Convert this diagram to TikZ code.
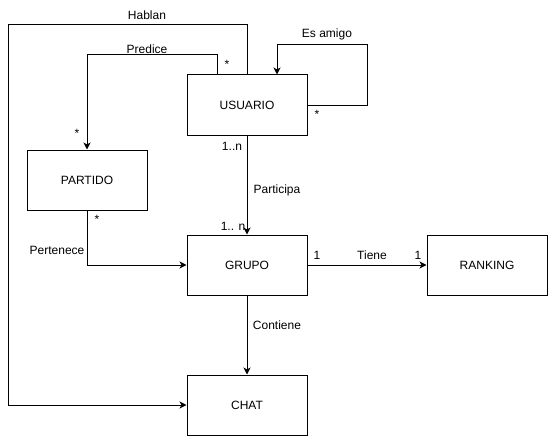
\documentclass[tikz,border=0pt]{standalone}
\usepackage{fontspec}
\setmainfont{Liberation Sans}
\usetikzlibrary{arrows.meta}
\begin{document}
\begin{tikzpicture}[x=1pt,y=-1pt,
  ent/.style={draw,line width=1pt,minimum width=120pt,minimum height=60pt,inner sep=0pt,font=\fontsize{12}{14}\selectfont},
  lbl/.style={inner sep=0pt,font=\fontsize{12}{14}\selectfont},
  conn/.style={line width=1pt,-{Stealth[length=7pt,width=7pt,inset=2pt]}}]
\useasboundingbox (0,0) rectangle (549,436);
\node[ent] (usu) at (247,105) {USUARIO};
\node[ent] (par) at (87,180) {PARTIDO};
\node[ent] (gru) at (247,265) {GRUPO};
\node[ent] (ran) at (487,265) {RANKING};
\node[ent] (cha) at (247,405) {CHAT};
\coordinate (h1) at (247,25);
\coordinate (h2) at (8,25);
\coordinate (h3) at (8,405);
\draw[conn] (usu.north) -- (h1) -- (h2) -- (h3) -- (cha.west);
\coordinate (p1) at (217,55);
\coordinate (p2) at (87,55);
\draw[conn] (p1 |- usu.north) -- (p1) -- (p2) -- (par.north);
\coordinate (e1) at (367,105);
\coordinate (e2) at (367,45);
\coordinate (e3) at (277,45);
\draw[conn] (usu.east) -- (e1) -- (e2) -- (e3) -- (e3 |- usu.north);
\draw[conn] (usu.south) -- (gru.north);
\coordinate (t1) at (87,265);
\draw[conn] (par.south) -- (t1) -- (gru.west);
\draw[conn] (gru.east) -- (ran.west);
\draw[conn] (gru.south) -- (cha.north);
\node[lbl] (lh) at (147,15) {Hablan};
\node[lbl] (lp) at (147,49) {Predice};
\node[lbl] (ls1) at (227,64) {*};
\node[lbl] (ls2) at (77,133) {*};
\node[lbl] (le) at (327,34) {Es amigo};
\node[lbl] (ls3) at (317,114) {*};
\node[lbl] (l1n) at (232,146) {1..n};
\node[lbl] (lpa) at (277,190) {Participa};
\node[lbl] (l1n2) at (233,226) {1.. n};
\node[lbl] (ls4) at (97,219) {*};
\node[lbl] (lpe) at (57,250) {Pertenece};
\node[lbl] (lt1) at (317,255) {1};
\node[lbl] (lt) at (372,255) {Tiene};
\node[lbl] (lt2) at (418,255) {1};
\node[lbl] (lc) at (277,325) {Contiene};
\end{tikzpicture}
\end{document}
